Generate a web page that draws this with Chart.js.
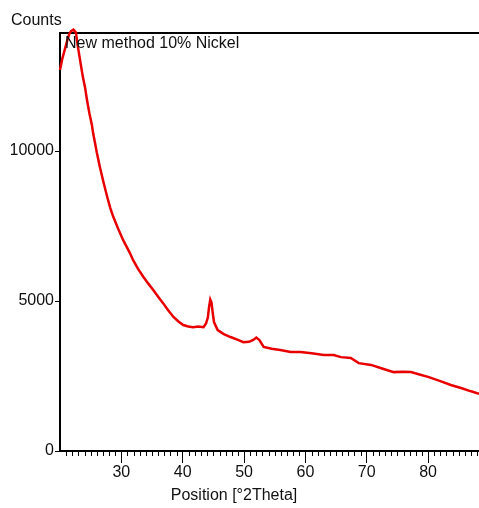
<!DOCTYPE html>
<html>
<head>
<meta charset="utf-8">
<script src="https://cdn.jsdelivr.net/npm/chart.js@4"></script>
<style>
  html, body { margin: 0; padding: 0; background: #fff; }
  #wrap { width: 479px; height: 508px; position: relative; }
</style>
</head>
<body>
<div id="wrap"><canvas id="xrdChart"></canvas></div>
<script>
// Values
const twoTheta = [
    20.0, 20.4, 20.8, 21.2, 21.5, 21.8, 22.2, 22.6, 22.9, 23.3, 23.7,
    24.1, 24.4, 24.8, 25.2, 25.4, 26.0, 26.5, 27.1, 27.7, 28.2,
    28.7, 29.5, 30.3, 31.4, 31.9, 32.7, 33.6, 34.4, 35.2, 36.0,
    36.8, 37.6, 38.5, 39.3, 40.1, 40.9, 41.7, 42.5, 43.4, 43.8,
    44.1, 44.3, 44.5, 44.7, 44.9, 45.1, 45.7, 46.7, 47.8, 48.8,
    49.9, 50.8, 51.5, 52.0, 52.5, 53.2, 54.5, 55.9, 57.6, 59.2,
    61.0, 63.0, 64.6, 65.8, 67.4, 68.7, 70.7, 72.5, 74.4, 75.8,
    77.2, 78.6, 80.0, 82.0, 83.7, 85.5, 87.0, 88.3
];
const counts = [
    12700, 13100, 13400, 13700, 13900, 14000, 14050, 13950, 13500, 13000, 12500,
    12100, 11700, 11250, 10870, 10600, 9950, 9470, 8950, 8470, 8100,
    7800, 7400, 7030, 6600, 6370, 6080, 5800, 5580, 5370, 5140,
    4930, 4700, 4470, 4320, 4200, 4150, 4130, 4150, 4130, 4250,
    4450, 4800, 5050, 4950, 4600, 4300, 4030, 3900, 3800, 3720,
    3630, 3640, 3700, 3780, 3700, 3470, 3410, 3370, 3300, 3300,
    3260, 3200, 3200, 3130, 3100, 2930, 2870, 2750, 2630, 2640,
    2630, 2550, 2470, 2330, 2200, 2090, 1990, 1910
];
const xTicks = [30, 40, 50, 60, 70, 80];
const yTicks = [0, 5000, 10000];
const sampleName = "New method 10% Nickel";
const yTitle = "Counts";
const xTitle = "Position [°2Theta]";

const FONT = "Arial, 'Liberation Sans', sans-serif";

// minor ticks every degree between the labelled ones
const minorTicks = [];
for (let v = 21; v <= 88; v++) {
    if (v % 10 !== 0) minorTicks.push(v);
}

const extras = {
    id: "extras",
    afterDraw(chart) {
        const { ctx, chartArea, scales } = chart;
        ctx.save();
        ctx.strokeStyle = "#000";
        ctx.lineWidth = 1;
        minorTicks.forEach((v) => {
            const px = Math.round(scales.x.getPixelForValue(v)) + 0.5;
            ctx.beginPath();
            ctx.moveTo(px, chartArea.bottom);
            ctx.lineTo(px, chartArea.bottom + 5);
            ctx.stroke();
        });
        ctx.fillStyle = "#111";
        ctx.font = "16px " + FONT;
        ctx.textBaseline = "middle";
        ctx.textAlign = "left";
        ctx.fillText(sampleName, chartArea.left + 5, chartArea.top + 10);
        ctx.textAlign = "center";
        ctx.fillText(xTitle, 234, 496);
        ctx.restore();
    },
};

new Chart(document.getElementById("xrdChart").getContext("2d"), {
    type: "line",
    data: {
        datasets: [{
            label: sampleName,
            data: twoTheta.map((t, i) => ({ x: t, y: counts[i] })),
            borderColor: "rgb(232,0,0)",
            borderWidth: 2.5,
            pointRadius: 0,
            tension: 0,
            fill: false,
            clip: false,
        }],
    },
    options: {
        responsive: true,
        maintainAspectRatio: false,
        animation: false,
        layout: { padding: { left: 11, top: 0, right: 0, bottom: 0 } },
        plugins: {
            legend: { display: false },
            tooltip: { enabled: false },
            title: {
                display: true,
                text: yTitle,
                align: "start",
                color: "#111",
                font: { family: FONT, size: 16, weight: "normal" },
                padding: { top: 11, bottom: 3 },
            },
        },
        scales: {
            x: {
                type: "linear",
                position: "bottom",
                min: 20,
                max: 88.3,
                afterBuildTicks: (s) => { s.ticks = xTicks.map((v) => ({ value: v })); },
                afterFit: (s) => { s.height = 57; },
                grid: { drawOnChartArea: false, tickLength: 12, color: "#000", tickWidth: 1 },
                border: { color: "#000", width: 2 },
                ticks: { color: "#111", padding: 0, font: { family: FONT, size: 16 }, maxRotation: 0 },
            },
            x2: {
                type: "linear",
                position: "top",
                min: 20,
                max: 88.3,
                afterFit: (s) => { s.height = 0; },
                grid: { drawOnChartArea: false, drawTicks: false },
                border: { color: "#000", width: 2 },
                ticks: { display: false },
            },
            y: {
                min: 0,
                max: 13930,
                afterBuildTicks: (s) => { s.ticks = yTicks.map((v) => ({ value: v })); },
                afterFit: (s) => { s.width = 49; },
                grid: { drawOnChartArea: false, tickLength: 5, color: "#000", tickWidth: 1 },
                border: { color: "#000", width: 2 },
                ticks: {
                    color: "#111",
                    padding: 1,
                    font: { family: FONT, size: 16 },
                    callback: (v) => String(v),
                },
            },
        },
    },
    plugins: [extras],
});
</script>
</body>
</html>
